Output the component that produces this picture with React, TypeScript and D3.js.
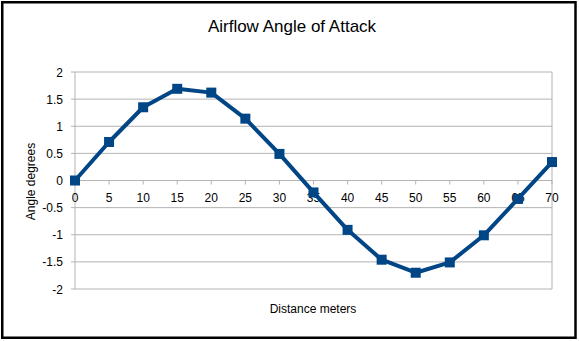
import React from "react";
import * as d3 from "d3";

const distances = [0, 5, 10, 15, 20, 25, 30, 35, 40, 45, 50, 55, 60, 65, 70];
const angles = [0, 0.71, 1.35, 1.69, 1.62, 1.14, 0.49, -0.22, -0.91, -1.46, -1.7, -1.51, -1.01, -0.34, 0.34];
const yTicks = [-2, -1.5, -1, -0.5, 0, 0.5, 1, 1.5, 2];
const xTicks = [0, 5, 10, 15, 20, 25, 30, 35, 40, 45, 50, 55, 60, 65, 70];
const title = "Airflow Angle of Attack";
const xTitle = "Distance meters";
const yTitle = "Angle degrees";

const W = 579;
const H = 341;
const left = 75;
const right = 552;
const top = 72;
const bottom = 289;
const font = "'Liberation Sans', Arial, sans-serif";
const blue = "#004586";
const grid = "#b3b3b3";

export default function App() {
  const x = d3.scaleLinear().domain([0, 70]).range([left, right]);
  const y = d3.scaleLinear().domain([-2, 2]).range([bottom, top]);
  const line = d3
    .line<number>()
    .x((_, i) => x(distances[i]))
    .y((d) => y(d));
  const y0 = y(0);
  return (
    <svg
      width={W}
      height={H}
      style={{ position: "absolute", left: 0, top: 0, background: "#fff" }}
    >
      <rect x={2.25} y={2.25} width={573.25} height={335.5} fill="#fff" stroke="#000" strokeWidth={2.5} />
      <text x={292} y={32} textAnchor="middle" fontFamily={font} fontSize={17} fill="#000">
        {title}
      </text>
      {yTicks.map((t) => (
        <g key={"y" + t}>
          <line x1={left - 4} x2={right} y1={y(t)} y2={y(t)} stroke={grid} strokeWidth={1} />
          <text x={63} y={y(t) + 4.5} textAnchor="end" fontFamily={font} fontSize={12} fill="#000">
            {t}
          </text>
        </g>
      ))}
      <line x1={left} x2={left} y1={top} y2={bottom} stroke={grid} strokeWidth={1} />
      <line x1={right} x2={right} y1={top} y2={bottom} stroke={grid} strokeWidth={1} />
      {xTicks.map((t) => (
        <g key={"x" + t}>
          <line x1={x(t)} x2={x(t)} y1={y0} y2={y0 + 4} stroke={grid} strokeWidth={1} />
          <text x={x(t)} y={201.5} textAnchor="middle" fontFamily={font} fontSize={12} fill="#000">
            {t}
          </text>
        </g>
      ))}
      <path d={line(angles) || ""} fill="none" stroke={blue} strokeWidth={4} strokeLinejoin="round" />
      {angles.map((v, i) => (
        <rect key={"m" + i} x={x(distances[i]) - 5} y={y(v) - 5} width={10} height={10} fill={blue} />
      ))}
      <text x={313} y={313} textAnchor="middle" fontFamily={font} fontSize={12} fill="#000">
        {xTitle}
      </text>
      <text
        transform={`translate(35, 181.5) rotate(-90)`}
        textAnchor="middle"
        fontFamily={font}
        fontSize={12}
        fill="#000"
      >
        {yTitle}
      </text>
    </svg>
  );
}
